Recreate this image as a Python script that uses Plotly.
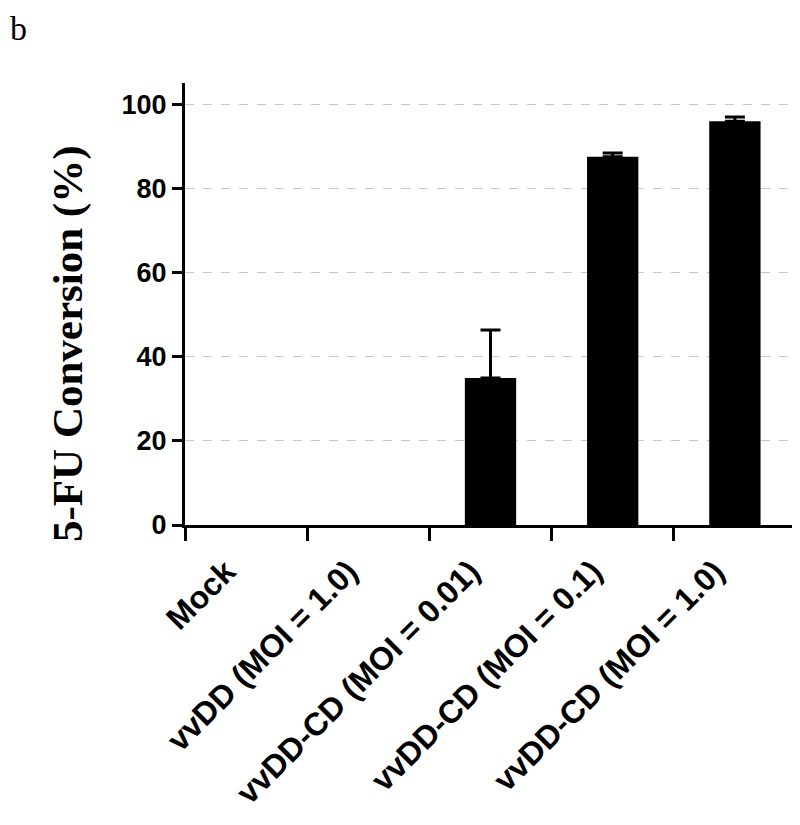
import plotly.graph_objects as go

categories = ["Mock", "vvDD (MOI = 1.0)", "vvDD-CD (MOI = 0.01)",
              "vvDD-CD (MOI = 0.1)", "vvDD-CD (MOI = 1.0)"]
conversion = [0, 0, 34.9, 87.5, 95.9]
conversion_err = [0, 0, 11.4, 0.9, 1.0]
y_ticks = [0, 20, 40, 60, 80, 100]
panel_label = "b"
y_title = "5-FU Conversion (%)"

# page body has an 8px margin; plot area wanted at x 185..796, y 83..525 on screen
L, R_EDGE, T, B_EDGE = 177, 788, 75, 517
W, H = 800, 825
PW, PH = R_EDGE - L, B_EDGE - T

fig = go.Figure()
fig.add_trace(go.Bar(
    x=categories, y=conversion, width=0.42,
    marker=dict(color="black", line=dict(width=0)),
))
# error bars only where a bar is drawn
has_err = [i for i, e in enumerate(conversion_err) if e > 0]
fig.add_trace(go.Scatter(
    x=[categories[i] for i in has_err], y=[conversion[i] for i in has_err],
    mode="markers", marker=dict(size=1, opacity=0, color="black"),
    error_y=dict(type="data", array=[conversion_err[i] for i in has_err],
                 symmetric=False, arrayminus=[0] * len(has_err),
                 color="black", thickness=3, width=10),
    hoverinfo="skip",
))

fig.update_layout(
    width=W, height=H,
    margin=dict(l=L, r=W - R_EDGE, t=T, b=H - B_EDGE, autoexpand=False),
    paper_bgcolor="white", plot_bgcolor="white",
    showlegend=False,
    font=dict(family="Liberation Sans, Arial", color="black"),
)

fig.update_xaxes(
    range=[-0.5, 4.5],
    showline=True, linecolor="black", linewidth=3,
    ticks="outside", ticklen=13, tickwidth=3, tickcolor="black",
    tickson="boundaries",
    tickangle=-45,
    tickfont=dict(family="Liberation Sans, Arial", size=32, color="black", weight="bold"),
    ticklabelshift=-20, ticklabelstandoff=12,
    showgrid=False, zeroline=False, automargin=False,
)

fig.update_yaxes(
    range=[0, 105],
    tickvals=y_ticks,
    showline=True, linecolor="black", linewidth=3,
    ticks="outside", ticklen=10, tickwidth=3, tickcolor="black",
    tickfont=dict(family="Liberation Sans, Arial", size=27, color="black", weight="bold"),
    showgrid=True, gridcolor="#c8c8c8", griddash="dash", gridwidth=1,
    zeroline=False, automargin=False,
)

# y-axis title (placed as text so it can sit off-centre like the original)
fig.add_annotation(
    text=y_title, xref="paper", yref="paper",
    x=(60 - L) / PW, y=(B_EDGE - 336) / PH,
    xanchor="center", yanchor="middle", textangle=-90, showarrow=False,
    font=dict(family="Liberation Serif, Times New Roman", size=43,
              color="black", weight="bold"),
)

fig.add_annotation(
    text=panel_label, xref="paper", yref="paper",
    x=-L / PW, y=1 + T / PH,
    xanchor="left", yanchor="top", showarrow=False,
    font=dict(family="Liberation Serif, Times New Roman", size=34, color="black"),
    xshift=0, yshift=0,
)

fig.write_html("out.html")
